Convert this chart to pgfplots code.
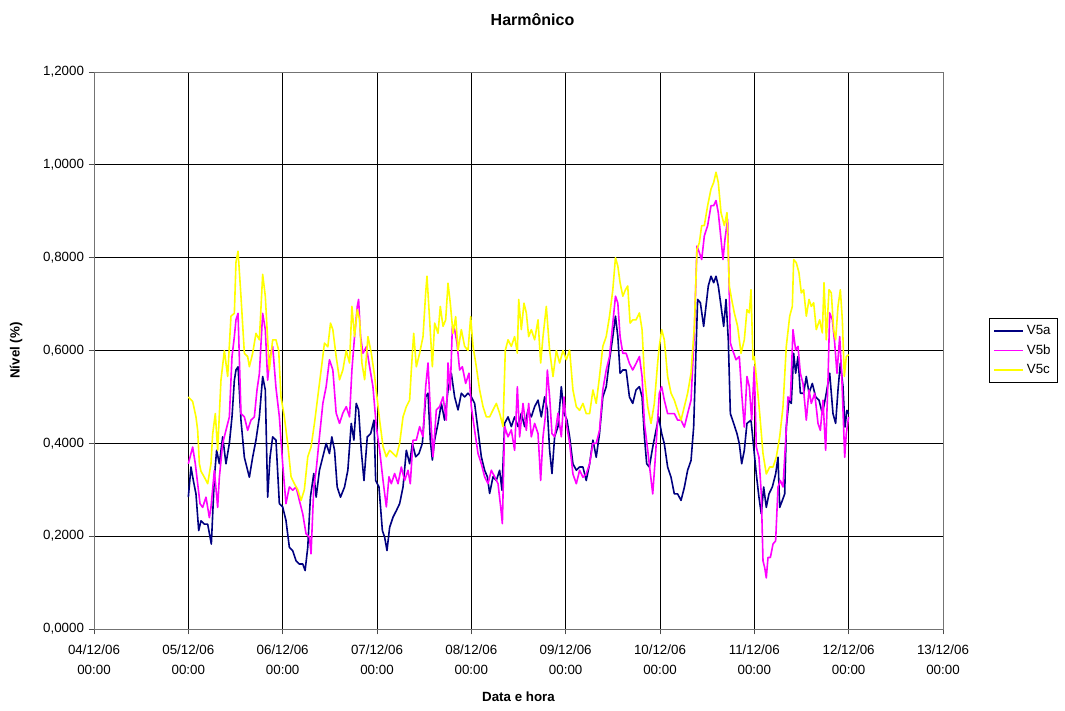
\documentclass[border=0pt]{standalone}
\usepackage{fontspec}
\setmainfont{Liberation Sans}
\usepackage{pgfplots}
\pgfplotsset{compat=1.18}
\definecolor{vnavy}{RGB}{0,0,128}
\definecolor{vmag}{RGB}{255,0,255}
\definecolor{vyel}{RGB}{255,255,0}
\begin{document}
\fontsize{10}{12}\selectfont
\begin{tikzpicture}
\path (-70.5pt,-61.5pt) rectangle (728.25pt,471.75pt);
\begin{axis}[
  at={(0,0)}, anchor=south west,
  scale only axis, width=636.75pt, height=417.75pt,
  xmin=0, xmax=9, ymin=0, ymax=1.2,
  xtick={0,1,2,3,4,5,6,7,8,9},
  xticklabels={04/12/06\\00:00,05/12/06\\00:00,06/12/06\\00:00,07/12/06\\00:00,08/12/06\\00:00,09/12/06\\00:00,10/12/06\\00:00,11/12/06\\00:00,12/12/06\\00:00,13/12/06\\00:00},
  xticklabel style={align=center, font=\fontsize{10}{15}\selectfont, yshift=-4pt},
  ytick={0,0.2,0.4,0.6,0.8,1,1.2},
  yticklabel style={font=\fontsize{10}{12}\selectfont,
    /pgf/number format/fixed, /pgf/number format/fixed zerofill,
    /pgf/number format/precision=4, /pgf/number format/use comma,
    /pgf/number format/assume math mode=true},
  scaled y ticks=false,
  tick align=outside, xtick pos=left, ytick pos=left,
  major tick length=4pt,
  tick style={black!70, line width=0.6pt},
  grid=major,
  major grid style={black, line width=0.6pt},
  axis line style={black!55, line width=0.7pt},
  title={Harmônico},
  title style={at={(axis description cs:0.5165,1)}, anchor=center, yshift=33pt, font=\bfseries\fontsize{12}{14}\selectfont},
  xlabel={Data e hora},
  xlabel style={at={(axis description cs:0.5,0)}, anchor=center, yshift=-51pt, font=\bfseries\fontsize{10}{12}\selectfont},
  ylabel={Nível (\%)},
  ylabel style={at={(axis description cs:0,0.5)}, anchor=center, rotate=0, yshift=58.5pt, font=\bfseries\fontsize{10}{12}\selectfont},
  legend style={at={(axis description cs:1.0542,0.5)}, anchor=west, draw=black, line width=0.6pt,
    font=\fontsize{10}{12}\selectfont, cells={anchor=west}, row sep=2pt, inner xsep=3pt, inner ysep=3pt},
  legend image code/.code={\draw[#1, line width=1.1pt] (0pt,0pt) -- (22pt,0pt);},
  every axis plot/.append style={no markers, line width=1.2pt, line join=round},
]
\addplot[color=vnavy] coordinates {
(1.000,0.284)(1.028,0.349)(1.053,0.320)(1.081,0.291)(1.110,0.212)(1.134,0.233)(1.170,0.226)(1.205,0.226)(1.244,0.183)(1.276,0.327)(1.300,0.385)(1.329,0.356)(1.364,0.414)(1.399,0.356)(1.435,0.400)(1.463,0.457)(1.488,0.536)(1.505,0.558)(1.527,0.565)(1.558,0.450)(1.594,0.370)(1.611,0.356)(1.647,0.327)(1.682,0.370)(1.717,0.407)(1.753,0.457)(1.788,0.544)(1.816,0.515)(1.841,0.284)(1.866,0.370)(1.894,0.414)(1.929,0.407)(1.965,0.270)
(2.000,0.263)(2.035,0.234)(2.071,0.176)(2.106,0.169)(2.142,0.147)(2.177,0.140)(2.213,0.140)(2.238,0.126)(2.266,0.176)(2.294,0.284)(2.330,0.335)(2.355,0.284)(2.390,0.342)(2.426,0.371)(2.461,0.400)(2.496,0.378)(2.521,0.414)(2.550,0.385)(2.578,0.306)(2.613,0.284)(2.656,0.306)(2.691,0.342)(2.727,0.443)(2.755,0.407)(2.780,0.486)(2.805,0.472)(2.833,0.385)(2.862,0.320)(2.897,0.414)(2.933,0.421)(2.968,0.450)
(2.986,0.320)(3.021,0.306)(3.057,0.212)(3.081,0.198)(3.106,0.169)(3.134,0.219)(3.170,0.241)(3.205,0.255)(3.240,0.270)(3.276,0.306)(3.311,0.385)(3.346,0.356)(3.375,0.400)(3.410,0.371)(3.445,0.378)(3.481,0.400)(3.516,0.500)(3.541,0.508)(3.565,0.407)(3.587,0.364)(3.611,0.407)(3.647,0.443)(3.682,0.486)(3.717,0.450)(3.753,0.515)(3.788,0.551)(3.823,0.500)(3.859,0.472)(3.894,0.508)(3.929,0.500)(3.965,0.508)
(4.000,0.500)(4.035,0.486)(4.071,0.428)(4.106,0.371)(4.141,0.342)(4.170,0.328)(4.194,0.292)(4.230,0.328)(4.265,0.320)(4.300,0.342)(4.325,0.299)(4.353,0.443)(4.389,0.457)(4.424,0.436)(4.459,0.457)(4.495,0.436)(4.530,0.465)(4.565,0.436)(4.601,0.472)(4.636,0.457)(4.671,0.479)(4.707,0.493)(4.742,0.457)(4.777,0.500)(4.806,0.472)(4.830,0.385)(4.855,0.335)(4.883,0.414)(4.919,0.436)(4.954,0.522)(4.982,0.465)
(5.014,0.450)(5.042,0.414)(5.077,0.356)(5.113,0.342)(5.148,0.349)(5.183,0.349)(5.218,0.320)(5.254,0.356)(5.289,0.407)(5.324,0.370)(5.359,0.421)(5.394,0.500)(5.430,0.522)(5.465,0.580)(5.500,0.630)(5.528,0.674)(5.553,0.630)(5.577,0.551)(5.606,0.558)(5.641,0.558)(5.676,0.500)(5.711,0.486)(5.746,0.515)(5.782,0.522)(5.810,0.500)(5.835,0.414)(5.859,0.356)(5.887,0.349)(5.923,0.392)(5.958,0.428)(5.986,0.457)
(6.018,0.421)(6.046,0.399)(6.081,0.349)(6.117,0.327)(6.152,0.291)(6.187,0.291)(6.223,0.277)(6.258,0.305)(6.293,0.342)(6.329,0.363)(6.357,0.435)(6.382,0.601)(6.399,0.710)(6.428,0.703)(6.463,0.652)(6.488,0.696)(6.512,0.739)(6.541,0.760)(6.569,0.746)(6.594,0.760)(6.618,0.739)(6.647,0.696)(6.675,0.652)(6.700,0.710)(6.724,0.623)(6.746,0.464)(6.781,0.443)(6.816,0.421)(6.841,0.399)(6.866,0.356)(6.894,0.385)(6.922,0.443)(6.965,0.450)(6.993,0.392)
(7.021,0.334)(7.049,0.284)(7.074,0.248)(7.099,0.306)(7.127,0.262)(7.155,0.291)(7.191,0.306)(7.226,0.334)(7.251,0.370)(7.269,0.262)(7.297,0.277)(7.322,0.291)(7.339,0.435)(7.367,0.493)(7.392,0.486)(7.417,0.594)(7.438,0.551)(7.463,0.587)(7.488,0.508)(7.523,0.508)(7.551,0.544)(7.580,0.508)(7.615,0.529)(7.650,0.500)(7.686,0.493)(7.721,0.464)(7.756,0.500)(7.799,0.551)(7.834,0.464)(7.862,0.443)(7.887,0.515)(7.912,0.573)(7.940,0.522)(7.961,0.435)(7.982,0.471)(8.000,0.464)
};
\addlegendentry{V5a}
\addplot[color=vmag] coordinates {
(1.000,0.356)(1.028,0.378)(1.046,0.392)(1.074,0.356)(1.099,0.313)(1.124,0.270)(1.152,0.262)(1.187,0.284)(1.223,0.240)(1.240,0.262)(1.276,0.342)(1.311,0.262)(1.329,0.327)(1.364,0.400)(1.399,0.428)(1.435,0.457)(1.463,0.587)(1.488,0.630)(1.505,0.666)(1.527,0.680)(1.558,0.464)(1.594,0.457)(1.629,0.428)(1.664,0.450)(1.700,0.457)(1.728,0.515)(1.753,0.550)(1.788,0.680)(1.816,0.645)(1.841,0.536)(1.866,0.587)(1.894,0.609)(1.929,0.520)(1.965,0.457)
(2.000,0.356)(2.035,0.270)(2.071,0.306)(2.106,0.299)(2.142,0.306)(2.177,0.277)(2.213,0.248)(2.248,0.205)(2.284,0.198)(2.301,0.162)(2.330,0.306)(2.355,0.342)(2.390,0.414)(2.426,0.486)(2.461,0.522)(2.496,0.580)(2.532,0.558)(2.567,0.465)(2.603,0.443)(2.638,0.465)(2.674,0.479)(2.709,0.457)(2.734,0.558)(2.762,0.630)(2.791,0.695)(2.805,0.710)(2.826,0.630)(2.851,0.594)(2.887,0.608)(2.922,0.565)(2.957,0.522)(2.993,0.436)
(3.028,0.385)(3.064,0.320)(3.099,0.263)(3.127,0.328)(3.152,0.313)(3.187,0.335)(3.223,0.313)(3.258,0.349)(3.293,0.320)(3.329,0.342)(3.353,0.313)(3.382,0.407)(3.417,0.407)(3.452,0.436)(3.488,0.414)(3.516,0.522)(3.541,0.573)(3.569,0.457)(3.594,0.371)(3.629,0.472)(3.664,0.479)(3.700,0.500)(3.735,0.450)(3.753,0.573)(3.777,0.515)(3.799,0.652)(3.823,0.645)(3.848,0.616)(3.876,0.558)(3.905,0.565)(3.940,0.529)(3.975,0.551)
(4.000,0.479)(4.035,0.428)(4.071,0.378)(4.106,0.356)(4.141,0.328)(4.177,0.313)(4.212,0.342)(4.247,0.328)(4.283,0.313)(4.311,0.263)(4.329,0.227)(4.353,0.436)(4.389,0.414)(4.424,0.429)(4.459,0.385)(4.488,0.522)(4.512,0.414)(4.548,0.486)(4.583,0.428)(4.608,0.486)(4.636,0.414)(4.671,0.443)(4.707,0.421)(4.735,0.320)(4.760,0.414)(4.784,0.457)(4.806,0.558)(4.830,0.500)(4.855,0.421)(4.883,0.414)(4.919,0.465)(4.954,0.414)(4.982,0.500)
(5.007,0.443)(5.042,0.400)(5.077,0.334)(5.113,0.313)(5.148,0.342)(5.183,0.327)(5.218,0.334)(5.254,0.356)(5.289,0.400)(5.324,0.400)(5.359,0.428)(5.394,0.515)(5.430,0.558)(5.465,0.587)(5.500,0.659)(5.528,0.717)(5.553,0.702)(5.577,0.630)(5.606,0.594)(5.641,0.594)(5.676,0.572)(5.711,0.558)(5.746,0.572)(5.782,0.587)(5.810,0.544)(5.835,0.443)(5.870,0.385)(5.894,0.342)(5.923,0.291)(5.951,0.370)(5.975,0.450)
(5.993,0.508)(6.018,0.522)(6.046,0.493)(6.081,0.464)(6.117,0.464)(6.152,0.464)(6.187,0.450)(6.223,0.450)(6.258,0.435)(6.293,0.464)(6.329,0.493)(6.364,0.638)(6.392,0.825)(6.417,0.811)(6.442,0.796)(6.470,0.847)(6.505,0.869)(6.541,0.912)(6.569,0.912)(6.594,0.923)(6.618,0.897)(6.647,0.840)(6.668,0.796)(6.689,0.840)(6.717,0.883)(6.746,0.616)(6.770,0.601)(6.806,0.580)(6.841,0.587)(6.866,0.508)(6.894,0.435)(6.922,0.544)(6.947,0.522)(6.972,0.450)(7.000,0.566)
(7.021,0.392)(7.049,0.370)(7.074,0.291)(7.092,0.147)(7.110,0.132)(7.127,0.110)(7.145,0.154)(7.170,0.154)(7.198,0.183)(7.226,0.190)(7.251,0.306)(7.276,0.320)(7.304,0.306)(7.332,0.406)(7.357,0.500)(7.382,0.493)(7.410,0.645)(7.438,0.601)(7.463,0.609)(7.488,0.551)(7.516,0.529)(7.551,0.450)(7.580,0.515)(7.604,0.486)(7.640,0.508)(7.675,0.443)(7.700,0.428)(7.728,0.493)(7.756,0.385)(7.781,0.536)(7.799,0.681)(7.827,0.666)(7.852,0.616)(7.876,0.551)(7.905,0.630)(7.926,0.551)(7.958,0.370)(7.975,0.421)(8.000,0.457)
};
\addlegendentry{V5b}
\addplot[color=vyel] coordinates {
(1.000,0.500)(1.046,0.490)(1.081,0.457)(1.099,0.428)(1.117,0.356)(1.134,0.340)(1.170,0.327)(1.205,0.313)(1.240,0.356)(1.258,0.420)(1.286,0.464)(1.311,0.385)(1.346,0.536)(1.382,0.600)(1.417,0.544)(1.452,0.674)(1.488,0.680)(1.505,0.790)(1.527,0.814)(1.558,0.717)(1.594,0.594)(1.629,0.587)(1.647,0.565)(1.682,0.594)(1.717,0.637)(1.753,0.623)(1.788,0.764)(1.816,0.717)(1.841,0.623)(1.859,0.558)(1.894,0.623)(1.929,0.623)(1.958,0.600)(1.982,0.500)
(2.018,0.457)(2.053,0.400)(2.089,0.328)(2.124,0.313)(2.160,0.300)(2.195,0.277)(2.230,0.300)(2.266,0.371)(2.301,0.392)(2.337,0.443)(2.372,0.500)(2.408,0.558)(2.443,0.616)(2.479,0.608)(2.507,0.659)(2.532,0.645)(2.567,0.587)(2.603,0.537)(2.638,0.558)(2.674,0.600)(2.709,0.573)(2.734,0.695)(2.762,0.630)(2.791,0.688)(2.816,0.666)(2.840,0.573)(2.869,0.537)(2.904,0.630)(2.940,0.594)(2.975,0.544)
(3.028,0.450)(3.064,0.393)(3.099,0.371)(3.134,0.385)(3.170,0.378)(3.205,0.371)(3.240,0.400)(3.276,0.457)(3.311,0.479)(3.346,0.493)(3.364,0.558)(3.389,0.637)(3.417,0.565)(3.452,0.594)(3.488,0.630)(3.516,0.724)(3.530,0.760)(3.558,0.666)(3.587,0.565)(3.611,0.659)(3.647,0.637)(3.671,0.695)(3.700,0.652)(3.728,0.666)(3.753,0.745)(3.777,0.702)(3.806,0.637)(3.834,0.673)(3.859,0.600)(3.894,0.645)(3.929,0.609)(3.965,0.600)
(3.993,0.673)(4.018,0.609)(4.053,0.565)(4.088,0.515)(4.124,0.479)(4.159,0.457)(4.194,0.457)(4.230,0.472)(4.265,0.486)(4.300,0.465)(4.336,0.436)(4.360,0.600)(4.389,0.623)(4.424,0.609)(4.459,0.630)(4.488,0.594)(4.502,0.710)(4.530,0.645)(4.558,0.702)(4.583,0.681)(4.608,0.630)(4.636,0.645)(4.671,0.623)(4.707,0.666)(4.735,0.573)(4.760,0.630)(4.795,0.695)(4.830,0.600)(4.866,0.544)(4.901,0.600)(4.936,0.573)(4.972,0.600)
(5.007,0.580)(5.042,0.601)(5.077,0.515)(5.113,0.479)(5.148,0.471)(5.183,0.486)(5.218,0.464)(5.254,0.464)(5.289,0.515)(5.324,0.486)(5.359,0.544)(5.394,0.609)(5.430,0.630)(5.465,0.674)(5.500,0.731)(5.528,0.800)(5.553,0.782)(5.577,0.746)(5.606,0.717)(5.634,0.731)(5.658,0.739)(5.683,0.659)(5.711,0.666)(5.746,0.666)(5.782,0.681)(5.810,0.645)(5.835,0.544)(5.870,0.479)(5.905,0.443)(5.940,0.486)(5.975,0.573)
(5.993,0.609)(6.018,0.645)(6.046,0.623)(6.081,0.544)(6.117,0.508)(6.152,0.493)(6.187,0.471)(6.223,0.450)(6.258,0.479)(6.293,0.508)(6.329,0.551)(6.364,0.652)(6.392,0.818)(6.417,0.832)(6.442,0.869)(6.470,0.869)(6.505,0.912)(6.541,0.948)(6.569,0.962)(6.594,0.984)(6.618,0.962)(6.647,0.897)(6.682,0.869)(6.710,0.897)(6.735,0.739)(6.760,0.710)(6.788,0.681)(6.823,0.652)(6.859,0.594)(6.894,0.623)(6.922,0.688)(6.947,0.681)(6.965,0.731)(6.986,0.580)
(7.000,0.587)(7.028,0.529)(7.057,0.464)(7.092,0.378)(7.127,0.334)(7.163,0.349)(7.198,0.349)(7.233,0.370)(7.269,0.414)(7.304,0.479)(7.339,0.609)(7.375,0.674)(7.403,0.695)(7.417,0.796)(7.445,0.789)(7.473,0.768)(7.498,0.724)(7.523,0.731)(7.551,0.674)(7.580,0.710)(7.604,0.695)(7.629,0.703)(7.657,0.645)(7.693,0.666)(7.721,0.638)(7.739,0.746)(7.763,0.623)(7.792,0.731)(7.816,0.724)(7.841,0.645)(7.862,0.623)(7.887,0.695)(7.912,0.731)(7.933,0.666)(7.954,0.544)(7.975,0.587)(8.000,0.591)
};
\addlegendentry{V5c}
\end{axis}
\end{tikzpicture}
\end{document}
